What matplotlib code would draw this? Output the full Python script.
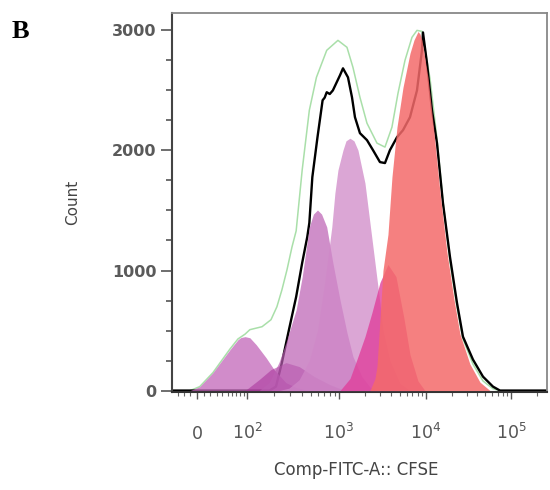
"""CFSE proliferation histogram (panel B) with generation peaks."""

import numpy as np
import matplotlib
matplotlib.use("Agg")
import matplotlib.pyplot as plt
from matplotlib.ticker import FixedLocator, NullFormatter

# --- data (CFSE intensity, count) ---
data_x = [-40, 180, 212, 246, 293, 350, 406, 460, 484, 521, 591, 670, 705, 741, 798,
          861, 1027, 1112, 1269, 1411, 1527, 1742, 2098, 2459, 2959, 3378, 3854,
          4642, 5444, 6549, 7881, 8995, 9237, 10274, 11765, 13470, 15850, 19150,
          23150, 27230, 35720, 46840, 61380, 74240, 262144]
data_y = [0, 0, 33, 233, 507, 781, 1064, 1280, 1396, 1778, 2110, 2418, 2440, 2485,
          2470, 2500, 2626, 2684, 2609, 2443, 2277, 2144, 2086, 2003, 1903, 1895,
          2003, 2110, 2169, 2277, 2500, 2834, 2983, 2726, 2335, 2061, 1560, 1114,
          731, 449, 258, 116, 33, 0, 0]

model_x = [-10, 4, 24, 55, 74, 94, 108, 149, 187, 217, 246, 279, 316, 350, 406,
           484, 576, 741, 975, 1236, 1448, 1742, 2098, 2734, 3378, 4064, 4768,
           5741, 6904, 7881, 8995, 11145, 13470, 15850, 19150, 23150, 27230,
           35720, 46840, 61380, 74240]
model_y = [0, 33, 150, 345, 430, 470, 507, 532, 590, 698, 839, 1006, 1197, 1330,
           1837, 2335, 2609, 2834, 2917, 2859, 2692, 2443, 2227, 2061, 2028, 2194,
           2476, 2751, 2942, 3000, 2992, 2600, 2100, 1580, 1080, 700, 430,
           220, 80, 15, 0]

gen1_x = [-10, 4, 24, 55, 74, 82, 94, 108, 128, 165, 202, 272, 350, 484]
gen1_y = [0, 33, 150, 340, 424, 442, 449, 440, 382, 274, 175, 66, 25, 0]

gen2_x = [94, 138, 187, 272, 377, 548, 798, 1172]
gen2_y = [0, 91, 175, 233, 200, 116, 50, 0]

gen3_x = [138, 178, 228, 272, 350, 406, 484, 535, 591, 653, 741, 861, 1027, 1236,
          1448, 1837, 2271, 2959]
gen3_y = [0, 66, 233, 399, 673, 947, 1363, 1470, 1504, 1470, 1363, 1064, 756, 482,
          283, 116, 30, 0]

gen4_x = [228, 293, 377, 484, 591, 705, 839, 905, 975, 1112, 1204, 1338, 1487,
          1653, 1990, 2271, 2593, 2959, 3204, 3854, 5026, 6549]
gen4_y = [0, 20, 90, 250, 500, 900, 1363, 1645, 1837, 2003, 2080, 2102, 2080,
          2003, 1728, 1396, 1064, 731, 507, 250, 60, 0]

gen5_x = [1027, 1338, 1610, 1990, 2394, 2959, 3656, 4518, 5590, 6549, 8093, 9739]
gen5_y = [0, 100, 260, 450, 650, 900, 1050, 950, 600, 300, 80, 0]

gen6_x = [2271, 2593, 2734, 2959, 3204, 3656, 4064, 4642, 5444, 6549, 7280, 8093,
          8540, 8995, 10557, 12420, 14620, 17660, 21340, 25120, 32930, 43170, 56600]
gen6_y = [0, 100, 200, 590, 1000, 1300, 1778, 2194, 2526, 2809, 2920, 2990,
          2970, 2917, 2609, 2150, 1650, 1150, 760, 470, 220, 70, 0]

y_ticks = [0, 1000, 2000, 3000]
x_ticks = [0, 1e2, 1e3, 1e4, 1e5]
x_tick_labels = ["0", r"$10^2$", r"$10^3$", r"$10^4$", r"$10^5$"]

# biexponential-like display axis (FlowJo style)
_ANCHOR_VALS = np.array([-40, 0, 100, 1e3, 1e4, 1e5, 262144])
_ANCHOR_POS = np.array([0, 25, 75, 167, 254, 339, 375], dtype=float)
_ANCHOR_ASINH = np.arcsinh(_ANCHOR_VALS / 50.0)


def _fwd(x):
    return np.interp(np.arcsinh(np.asarray(x, dtype=float) / 50.0), _ANCHOR_ASINH, _ANCHOR_POS)


def _inv(p):
    return 50.0 * np.sinh(np.interp(np.asarray(p, dtype=float), _ANCHOR_POS, _ANCHOR_ASINH))


fig = plt.figure(figsize=(5.5, 4.9), dpi=100)
ax = fig.add_axes([0.3127, 0.2, 0.6818, 0.7735])
ax.set_xscale("function", functions=(_fwd, _inv))

# lines first, fills drawn on top with transparency (as in FlowJo overlay)
ax.plot(model_x, model_y, color="#a9dfa9", lw=1.1, zorder=1)
ax.plot(data_x, data_y, color="black", lw=1.7, zorder=2, solid_joinstyle="round")

fills = [
    (gen1_x, gen1_y, "#c266b9", 0.75),
    (gen2_x, gen2_y, "#a8309a", 0.55),
    (gen3_x, gen3_y, "#bb5fb3", 0.7),
    (gen4_x, gen4_y, "#cf88c8", 0.75),
    (gen5_x, gen5_y, "#e0409c", 0.8),
    (gen6_x, gen6_y, "#f46a6a", 0.85),
]
for fx, fy, col, a in fills:
    ax.fill_between(fx, 0, fy, color=col, alpha=a, lw=0, zorder=3)

ax.set_xlim(-40, 262144)
ax.set_ylim(-12, 3145)

ax.xaxis.set_major_locator(FixedLocator(x_ticks))
ax.set_xticklabels(x_tick_labels)
minor_x = ([-30, -20, -10] + list(range(10, 100, 10))
           + [m * 10 ** d for d in (2, 3, 4) for m in range(2, 10)] + [2e5])
ax.xaxis.set_minor_locator(FixedLocator(minor_x))
ax.xaxis.set_minor_formatter(NullFormatter())

ax.yaxis.set_major_locator(FixedLocator(y_ticks))
ax.yaxis.set_minor_locator(FixedLocator([v for v in range(250, 3001, 250) if v % 1000]))

ax.tick_params(axis="y", which="major", length=8, width=1.2, color="#555555",
               labelsize=11.5, labelcolor="#5a5a5a", pad=3)
ax.tick_params(axis="y", which="minor", length=4, width=1.2, color="#555555")
ax.tick_params(axis="x", which="major", length=5, width=1.0, color="#555555",
               labelsize=12.5, labelcolor="#555555", pad=29)
ax.tick_params(axis="x", which="minor", length=3, width=0.8, color="#666666")
for lab in ax.get_xticklabels():
    lab.set_va("baseline")
for lab in ax.get_yticklabels():
    lab.set_fontweight("bold")

for side in ("top", "right"):
    ax.spines[side].set_color("#888888")
    ax.spines[side].set_linewidth(1.3)
ax.spines["left"].set_color("#444444")
ax.spines["left"].set_linewidth(1.5)
ax.spines["bottom"].set_color("#333333")
ax.spines["bottom"].set_linewidth(1.5)

ax.set_ylabel("Count", fontsize=11, color="#444444")
ax.yaxis.label.set_va("center")
ax.yaxis.set_label_coords(-0.264, 0.5)
ax.set_xlabel("Comp-FITC-A:: CFSE", fontsize=12, color="#444444")
ax.xaxis.label.set_va("center")
ax.xaxis.set_label_coords(0.49, -0.206)

fig.text(12 / 550, 1 - 38 / 490, "B", fontsize=19, fontweight="bold",
         family=["Liberation Serif", "DejaVu Serif"], va="baseline", ha="left")

fig.savefig("out.png", dpi=100)
